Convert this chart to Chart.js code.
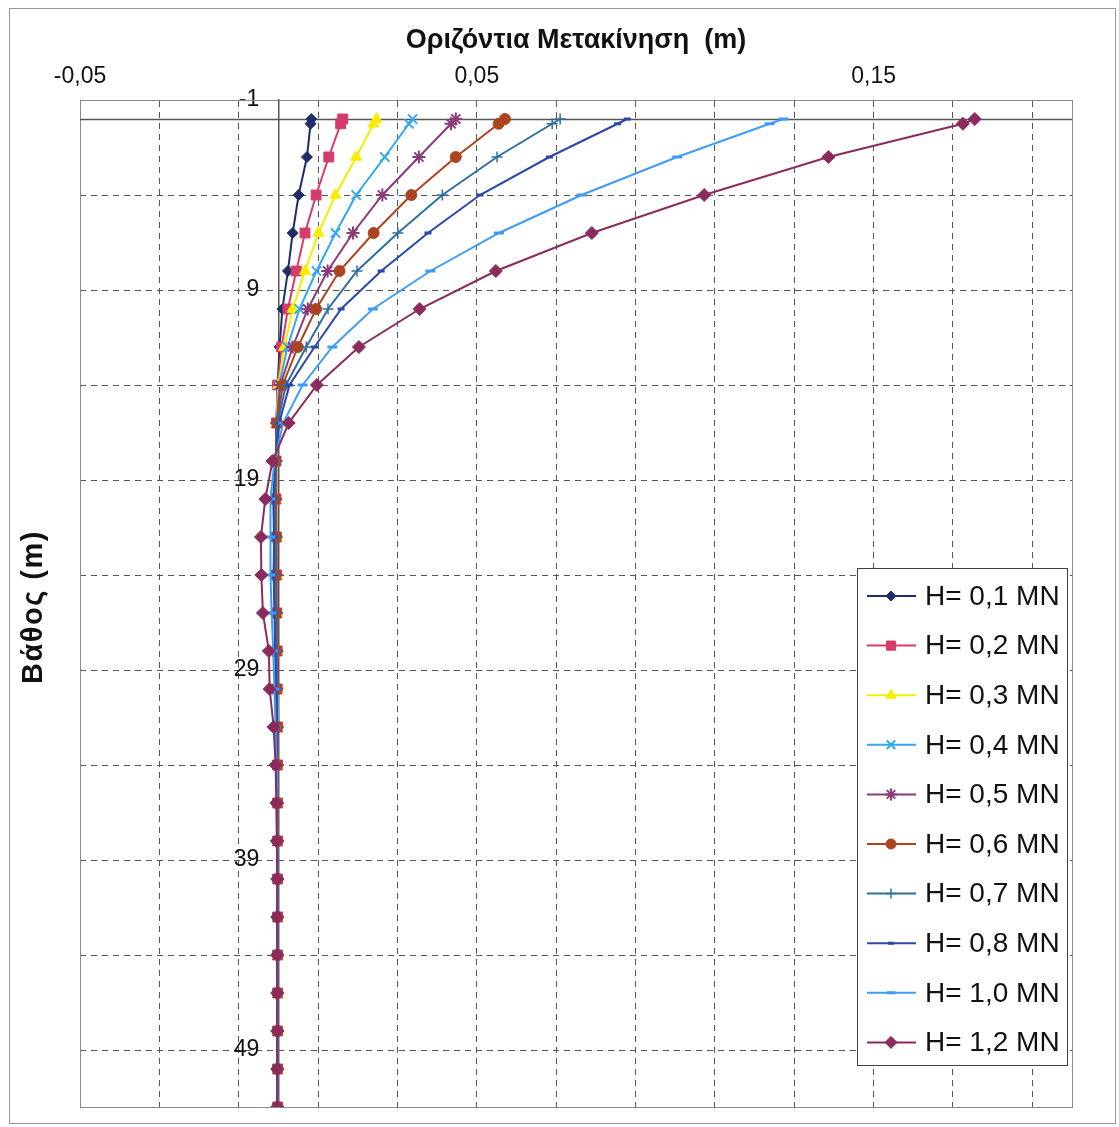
<!DOCTYPE html>
<html lang="el">
<head>
<meta charset="utf-8">
<title>Οριζόντια Μετακίνηση</title>
<script src="https://cdn.jsdelivr.net/npm/chart.js@4.4.1/dist/chart.umd.min.js"></script>
<style>
  body { margin: 0; background: #fff; }
  #wrap { position: relative; width: 1119px; height: 1127px; }
</style>
</head>
<body>
<div id="wrap"><canvas id="chart" width="1119" height="1127"></canvas></div>
<script>
// depth of every pile node (m)
const depths = [0, 0.25, 2, 4, 6, 8, 10, 12, 14, 16, 18, 20, 22, 24, 26, 28, 30, 32, 34, 36, 38, 40, 42, 44, 46, 48, 50, 52];

const seriesLabels = ['H= 0,1 MN', 'H= 0,2 MN', 'H= 0,3 MN', 'H= 0,4 MN', 'H= 0,5 MN',
                      'H= 0,6 MN', 'H= 0,7 MN', 'H= 0,8 MN', 'H= 1,0 MN', 'H= 1,2 MN'];

// horizontal displacement (m) at each depth
const h01 = [0.0083, 0.0081, 0.0072, 0.0051, 0.0036, 0.0024, 0.0010, 0.0003, -0.0002, -0.0005, -0.0006, -0.0006, -0.0005, -0.0004, -0.0004, -0.0003, -0.0003, -0.0002, -0.0002, -0.0002, -0.0002, -0.0002, -0.0002, -0.0002, -0.0002, -0.0002, -0.0002, -0.0002];
const h02 = [0.0162, 0.0157, 0.0127, 0.0095, 0.0067, 0.0045, 0.0024, 0.0008, -0.0002, -0.0005, -0.0006, -0.0006, -0.0005, -0.0004, -0.0004, -0.0003, -0.0003, -0.0002, -0.0002, -0.0002, -0.0002, -0.0002, -0.0002, -0.0002, -0.0002, -0.0002, -0.0002, -0.0002];
const h03 = [0.0247, 0.0240, 0.0196, 0.0144, 0.0101, 0.0067, 0.0036, 0.0015, 0.0000, -0.0005, -0.0006, -0.0006, -0.0005, -0.0005, -0.0004, -0.0004, -0.0003, -0.0003, -0.0002, -0.0002, -0.0002, -0.0002, -0.0002, -0.0002, -0.0002, -0.0002, -0.0002, -0.0002];
const h04 = [0.0338, 0.0329, 0.0268, 0.0196, 0.0144, 0.0096, 0.0053, 0.0023, 0.0002, -0.0004, -0.0006, -0.0007, -0.0005, -0.0005, -0.0005, -0.0004, -0.0003, -0.0003, -0.0003, -0.0002, -0.0002, -0.0002, -0.0002, -0.0002, -0.0002, -0.0002, -0.0002, -0.0002];
const h05 = [0.0447, 0.0435, 0.0354, 0.0262, 0.0188, 0.0124, 0.0074, 0.0036, 0.0005, -0.0004, -0.0006, -0.0007, -0.0006, -0.0006, -0.0005, -0.0004, -0.0004, -0.0003, -0.0003, -0.0002, -0.0002, -0.0002, -0.0002, -0.0002, -0.0002, -0.0002, -0.0002, -0.0002];
const h06 = [0.0571, 0.0555, 0.0447, 0.0335, 0.0240, 0.0154, 0.0095, 0.0049, 0.0011, -0.0003, -0.0007, -0.0008, -0.0006, -0.0007, -0.0006, -0.0005, -0.0004, -0.0003, -0.0003, -0.0003, -0.0002, -0.0002, -0.0002, -0.0002, -0.0002, -0.0002, -0.0002, -0.0002];
const h07 = [0.0710, 0.0690, 0.0551, 0.0413, 0.0301, 0.0198, 0.0125, 0.0070, 0.0019, -0.0002, -0.0007, -0.0010, -0.0008, -0.0009, -0.0007, -0.0006, -0.0005, -0.0004, -0.0003, -0.0003, -0.0003, -0.0002, -0.0002, -0.0002, -0.0002, -0.0002, -0.0002, -0.0002];
const h08 = [0.0879, 0.0855, 0.0683, 0.0508, 0.0377, 0.0259, 0.0158, 0.0091, 0.0028, 0.0002, -0.0008, -0.0013, -0.0011, -0.0012, -0.0010, -0.0008, -0.0006, -0.0005, -0.0004, -0.0004, -0.0003, -0.0003, -0.0002, -0.0002, -0.0002, -0.0002, -0.0002, -0.0002];
const h10 = [0.1273, 0.1238, 0.1005, 0.0764, 0.0556, 0.0383, 0.0238, 0.0136, 0.0061, 0.0012, -0.0010, -0.0020, -0.0020, -0.0020, -0.0017, -0.0013, -0.0010, -0.0007, -0.0005, -0.0004, -0.0003, -0.0003, -0.0003, -0.0002, -0.0002, -0.0002, -0.0002, -0.0002];
const h12 = [0.1755, 0.1725, 0.1386, 0.1073, 0.0790, 0.0548, 0.0356, 0.0203, 0.0097, 0.0026, -0.0015, -0.0033, -0.0044, -0.0043, -0.0039, -0.0024, -0.0022, -0.0012, -0.0007, -0.0005, -0.0004, -0.0003, -0.0003, -0.0003, -0.0003, -0.0003, -0.0003, -0.0003];

// axis grid and labels
const xGridLines = [-0.05, -0.03, -0.01, 0.01, 0.03, 0.05, 0.07, 0.09, 0.11, 0.13, 0.15, 0.17, 0.19];
const xTickLabels = [-0.05, 0.05, 0.15];
const yGridLines = [-1, 4, 9, 14, 19, 24, 29, 34, 39, 44, 49];
const yTickLabels = [-1, 9, 19, 29, 39, 49];

const allSeries = [h01, h02, h03, h04, h05, h06, h07, h08, h10, h12];

// marker look per series (Excel-like)
const seriesStyles = [
    { color: '#1f2d6b', pointStyle: 'rectRot',  radius: 5.5, bw: 1 },
    { color: '#d63c6b', pointStyle: 'rect',     radius: 7,   bw: 1 },
    { color: '#f5ee00', pointStyle: 'triangle', radius: 6.5, bw: 1 },
    { color: '#30a8f0', pointStyle: 'crossRot', radius: 6.5, bw: 2 },
    { color: '#8c3a78', pointStyle: 'star',     radius: 6.5, bw: 2 },
    { color: '#ad4420', pointStyle: 'circle',   radius: 5.5, bw: 1 },
    { color: '#2f6f9f', pointStyle: 'cross',    radius: 5.5, bw: 1.5 },
    { color: '#2b47a8', pointStyle: 'line',     radius: 3.5, bw: 3 },
    { color: '#3f9cf5', pointStyle: 'line',     radius: 5,   bw: 3 },
    { color: '#8b2b5c', pointStyle: 'rectRot',  radius: 6.5, bw: 1 }
];

const fmtComma = v => String(v).replace('.', ',');

Chart.defaults.font.family = '"Liberation Sans", Arial, sans-serif';
Chart.defaults.color = '#111';

const datasets = allSeries.map((vals, i) => {
    const s = seriesStyles[i];
    return {
        label: seriesLabels[i],
        data: depths.map((d, k) => ({ x: vals[k], y: d })),
        showLine: true,
        borderColor: s.color,
        backgroundColor: s.color,
        borderWidth: 2,
        pointStyle: s.pointStyle,
        pointRadius: s.radius,
        pointBorderWidth: s.bw,
        pointBackgroundColor: s.color,
        pointBorderColor: s.color,
        order: allSeries.length - i   // later series drawn on top, like Excel
    };
});

// frame, zero line, y title and the boxed legend
const chartDecor = {
    id: 'chartDecor',
    beforeDatasetsDraw(chart) {
        const { ctx, chartArea: a, scales: { y } } = chart;
        ctx.save();
        ctx.strokeStyle = '#8a8a8a';
        ctx.lineWidth = 1;
        ctx.strokeRect(a.left + 0.5, a.top + 0.5, a.right - a.left, a.bottom - a.top);
        const y0 = Math.round(y.getPixelForValue(0)) + 0.5;
        ctx.strokeStyle = '#555';
        ctx.lineWidth = 1.5;
        ctx.beginPath();
        ctx.moveTo(a.left, y0);
        ctx.lineTo(a.right, y0);
        ctx.stroke();
        ctx.restore();
    },
    afterDraw(chart) {
        const ctx = chart.ctx;
        ctx.save();

        // outer border of the chart
        ctx.strokeStyle = '#999';
        ctx.lineWidth = 1;
        ctx.strokeRect(9.5, 8.5, 1106, 1115);

        // y axis title
        ctx.translate(34, 607);
        ctx.rotate(-Math.PI / 2);
        ctx.font = 'bold 29px "Liberation Sans", Arial, sans-serif';
        ctx.letterSpacing = '1.5px';
        ctx.fillStyle = '#111';
        ctx.textAlign = 'center';
        ctx.textBaseline = 'middle';
        ctx.fillText('Βάθος (m)', 0, 0);
        ctx.restore();

        // legend
        const box = { left: 857, top: 568, width: 210, height: 497 };
        ctx.save();
        ctx.fillStyle = '#fff';
        ctx.fillRect(box.left, box.top, box.width, box.height);
        ctx.strokeStyle = '#444';
        ctx.lineWidth = 1;
        ctx.strokeRect(box.left + 0.5, box.top + 0.5, box.width, box.height);
        chart.data.datasets.forEach((ds, i) => {
            const s = seriesStyles[i];
            const cy = box.top + 28 + i * 49.6;
            ctx.strokeStyle = s.color;
            ctx.fillStyle = s.color;
            ctx.lineWidth = 2;
            ctx.beginPath();
            ctx.moveTo(867, cy);
            ctx.lineTo(916, cy);
            ctx.stroke();
            ctx.lineWidth = s.bw;
            Chart.helpers.drawPoint(ctx, {
                pointStyle: s.pointStyle, radius: s.radius - 0.5, borderWidth: s.bw, rotation: 0
            }, 891, cy);
            ctx.fillStyle = '#111';
            ctx.font = '28px "Liberation Sans", Arial, sans-serif';
            ctx.textAlign = 'left';
            ctx.textBaseline = 'middle';
            ctx.fillText(ds.label, 925, cy + 1);
        });
        ctx.restore();
    }
};

new Chart(document.getElementById('chart'), {
    type: 'scatter',
    data: { datasets: datasets },
    options: {
        responsive: false,
        animation: false,
        layout: { padding: { left: 80, right: 47, top: 0, bottom: 20 } },
        plugins: {
            legend: { display: false },
            tooltip: { enabled: false }
        },
        scales: {
            x: {
                type: 'linear',
                position: 'top',
                min: -0.05,
                max: 0.2,
                afterBuildTicks: scale => { scale.ticks = xGridLines.map(v => ({ value: v })); },
                afterFit: scale => { scale.height = 100; },
                ticks: {
                    autoSkip: false,
                    maxRotation: 0,
                    padding: 10,
                    font: { size: 23 },
                    color: '#111',
                    callback: v => xTickLabels.includes(v) ? fmtComma(v) : ''
                },
                grid: { color: '#555', lineWidth: 1, drawTicks: false },
                border: { display: true, color: '#8a8a8a', width: 1, dash: [6, 5] },
                title: {
                    display: true,
                    text: 'Οριζόντια Μετακίνηση  (m)',
                    font: { size: 27, weight: 'bold' },
                    color: '#111',
                    padding: { top: 24, bottom: 0 }
                }
            },
            y: {
                type: 'linear',
                position: { x: 0 },
                reverse: true,
                min: -1,
                max: 52,
                afterBuildTicks: scale => { scale.ticks = yGridLines.map(v => ({ value: v })); },
                ticks: {
                    autoSkip: false,
                    font: { size: 23 },
                    color: '#111',
                    // labels sit right-aligned on the axis line, trailing spaces push them off it
                    callback: v => yTickLabels.includes(v) ? String(v) + '\u00a0\u00a0\u00a0' : ''
                },
                grid: { color: '#555', lineWidth: 1, drawTicks: false },
                border: { display: true, color: '#555', width: 1.5, dash: [6, 5] }
            }
        }
    },
    plugins: [chartDecor]
});
</script>
</body>
</html>
